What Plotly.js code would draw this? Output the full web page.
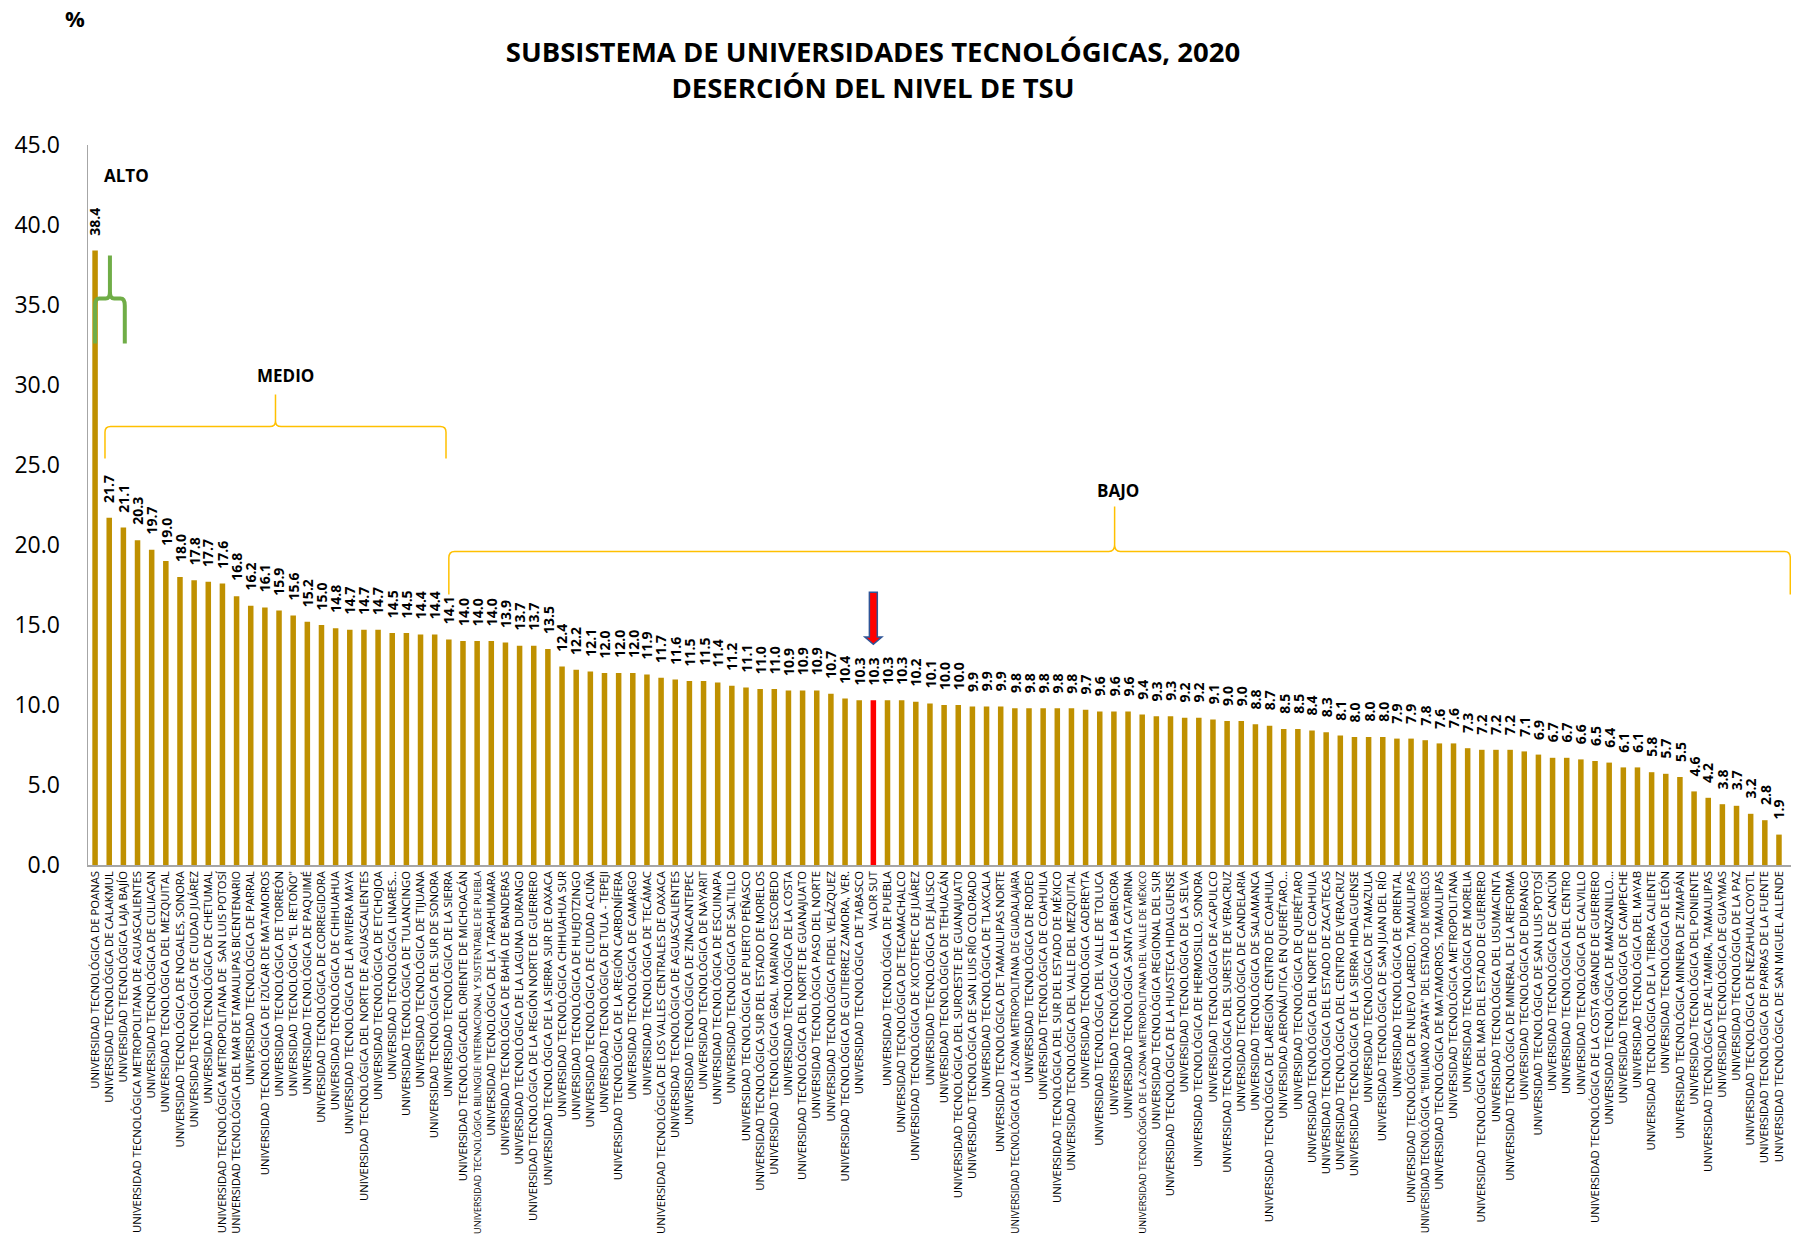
<!DOCTYPE html>
<html>
<head>
<meta charset="utf-8">
<script src="https://cdn.plot.ly/plotly-3.0.1.min.js"></script>
<style>html,body{margin:0;padding:0;background:#fff;}</style>
</head>
<body>
<div id="chart" style="width:1796px;height:1240px;"></div>
<script>
const categories = [
"UNIVERSIDAD TECNOLÓGICA DE POANAS",
"UNIVERSIDAD TECNOLÓGICA DE CALAKMUL",
"UNIVERSIDAD TECNOLÓGICA LAJA BAJÍO",
"UNIVERSIDAD TECNOLÓGICA METROPOLITANA DE AGUASCALIENTES",
"UNIVERSIDAD TECNOLÓGICA DE CULIACAN",
"UNIVERSIDAD TECNOLÓGICA DEL MEZQUITAL",
"UNIVERSIDAD TECNOLÓGICA DE NOGALES, SONORA",
"UNIVERSIDAD TECNOLÓGICA DE CIUDAD JUÁREZ",
"UNIVERSIDAD TECNOLÓGICA DE CHETUMAL",
"UNIVERSIDAD TECNOLÓGICA METROPOLITANA DE  SAN LUIS POTOSÍ",
"UNIVERSIDAD TECNOLÓGICA DEL MAR DE TAMAULIPAS BICENTENARIO",
"UNIVERSIDAD TECNOLÓGICA DE PARRAL",
"UNIVERSIDAD TECNOLÓGICA DE IZÚCAR DE MATAMOROS",
"UNIVERSIDAD TECNOLÓGICA DE TORREÓN",
"UNIVERSIDAD TECNOLÓGICA \"EL RETOÑO\"",
"UNIVERSIDAD TECNOLÓGICA DE PAQUIMÉ",
"UNIVERSIDAD TECNOLÓGICA DE CORREGIDORA",
"UNIVERSIDAD TECNOLÓGICA DE CHIHUAHUA",
"UNIVERSIDAD TECNOLÓGICA DE LA RIVIERA MAYA",
"UNIVERSIDAD TECNOLÓGICA DEL NORTE DE AGUASCALIENTES",
"UNIVERSIDAD TECNOLÓGICA DE ETCHOJOA",
"UNIVERSIDAD TECNOLÓGICA LINARES...",
"UNIVERSIDAD TECNOLÓGICA DE TULANCINGO",
"UNIVERSIDAD TECNOLÓGICA DE TIJUANA",
"UNIVERSIDAD TECNOLÓGICA DEL SUR DE SONORA",
"UNIVERSIDAD TECNOLÓGICA DE LA SIERRA",
"UNIVERSIDAD TECNOLÓGICADEL ORIENTE DE MICHOACÁN",
"UNIVERSIDAD TECNOLÓGICA BILINGÜE INTERNACIONAL Y SUSTENTABLE DE PUEBLA",
"UNIVERSIDAD TECNOLÓGICA DE LA TARAHUMARA",
"UNIVERSIDAD TECNOLÓGICA DE BAHÍA DE BANDERAS",
"UNIVERSIDAD TECNOLÓGICA DE LA LAGUNA DURANGO",
"UNIVERSIDAD TECNOLÓGICA DE LA REGIÓN NORTE DE GUERRERO",
"UNIVERSIDAD TECNOLÓGICA DE LA SIERRA SUR DE OAXACA",
"UNIVERSIDAD TECNOLÓGICA CHIHUAHUA SUR",
"UNIVERSIDAD TECNOLÓGICA DE HUEJOTZINGO",
"UNIVERSIDAD TECNOLÓGICA DE CIUDAD ACUÑA",
"UNIVERSIDAD TECNOLÓGICA DE TULA - TEPEJI",
"UNIVERSIDAD TECNOLÓGICA DE LA REGIÓN CARBONÍFERA",
"UNIVERSIDAD TECNOLÓGICA DE CAMARGO",
"UNIVERSIDAD TECNOLÓGICA DE TECÁMAC",
"UNIVERSIDAD TECNOLÓGICA DE LOS VALLES CENTRALES DE OAXACA",
"UNIVERSIDAD TECNOLÓGICA DE AGUASCALIENTES",
"UNIVERSIDAD TECNOLÓGICA DE ZINACANTEPEC",
"UNIVERSIDAD TECNOLÓGICA DE NAYARIT",
"UNIVERSIDAD TECNOLÓGICA DE ESCUINAPA",
"UNIVERSIDAD TECNOLÓGICA DE SALTILLO",
"UNIVERSIDAD TECNOLÓGICA DE PUERTO PEÑASCO",
"UNIVERSIDAD TECNOLÓGICA SUR DEL ESTADO DE MORELOS",
"UNIVERSIDAD TECNOLÓGICA GRAL. MARIANO ESCOBEDO",
"UNIVERSIDAD TECNOLÓGICA DE LA COSTA",
"UNIVERSIDAD TECNOLÓGICA DEL NORTE DE GUANAJUATO",
"UNIVERSIDAD TECNOLÓGICA PASO DEL NORTE",
"UNIVERSIDAD TECNOLÓGICA FIDEL VELÁZQUEZ",
"UNIVERSIDAD TECNOLÓGICA DE GUTIERREZ ZAMORA, VER.",
"UNIVERSIDAD TECNOLÓGICA DE TABASCO",
"VALOR SUT",
"UNIVERSIDAD TECNOLÓGICA DE PUEBLA",
"UNIVERSIDAD TECNOLÓGICA DE TECAMACHALCO",
"UNIVERSIDAD TECNOLÓGICA DE XICOTEPEC DE JUÁREZ",
"UNIVERSIDAD TECNOLÓGICA DE JALISCO",
"UNIVERSIDAD TECNOLÓGICA DE TEHUACÁN",
"UNIVERSIDAD TECNOLÓGICA DEL SUROESTE DE GUANAJUATO",
"UNIVERSIDAD TECNOLÓGICA DE SAN LUIS RÍO COLORADO",
"UNIVERSIDAD TECNOLÓGICA DE TLAXCALA",
"UNIVERSIDAD TECNOLÓGICA DE TAMAULIPAS NORTE",
"UNIVERSIDAD TECNOLÓGICA DE LA ZONA METROPOLITANA DE GUADALAJARA",
"UNIVERSIDAD TECNOLÓGICA DE RODEO",
"UNIVERSIDAD TECNOLÓGICA DE COAHUILA",
"UNIVERSIDAD TECNOLÓGICA DEL SUR DEL ESTADO DE MÉXICO",
"UNIVERSIDAD TECNOLÓGICA DEL VALLE DEL MEZQUITAL",
"UNIVERSIDAD TECNOLÓGICA CADEREYTA",
"UNIVERSIDAD TECNOLÓGICA DEL VALLE DE TOLUCA",
"UNIVERSIDAD TECNOLÓGICA DE LA BABICORA",
"UNIVERSIDAD TECNOLÓGICA SANTA CATARINA",
"UNIVERSIDAD TECNOLÓGICA DE LA ZONA METROPOLITANA DEL VALLE DE MÉXICO",
"UNIVERSIDAD TECNOLÓGICA REGIONAL DEL SUR",
"UNIVERSIDAD TECNOLÓGICA DE LA HUASTECA HIDALGUENSE",
"UNIVERSIDAD TECNOLÓGICA DE LA SELVA",
"UNIVERSIDAD TECNOLÓGICA DE HERMOSILLO, SONORA",
"UNIVERSIDAD TECNOLÓGICA DE ACAPULCO",
"UNIVERSIDAD TECNOLÓGICA DEL SURESTE DE VERACRUZ",
"UNIVERSIDAD TECNOLÓGICA DE CANDELARIA",
"UNIVERSIDAD TECNOLÓGICA DE SALAMANCA",
"UNIVERSIDAD TECNOLÓGICA DE LAREGIÓN CENTRO DE COAHUILA",
"UNIVERSIDAD AERONÁUTICA EN QUERÉTARO...",
"UNIVERSIDAD TECNOLÓGICA DE QUERÉTARO",
"UNIVERSIDAD TECNOLÓGICA DEL NORTE DE COAHUILA",
"UNIVERSIDAD TECNOLÓGICA DEL ESTADO DE ZACATECAS",
"UNIVERSIDAD TECNOLÓGICA DEL CENTRO DE VERACRUZ",
"UNIVERSIDAD TECNOLÓGICA DE LA SIERRA HIDALGUENSE",
"UNIVERSIDAD TECNOLÓGICA DE TAMAZULA",
"UNIVERSIDAD TECNOLÓGICA DE SAN JUAN DEL RÍO",
"UNIVERSIDAD TECNOLÓGICA DE ORIENTAL",
"UNIVERSIDAD TECNOLÓGICA DE NUEVO LAREDO, TAMAULIPAS",
"UNIVERSIDAD TECNOLÓGICA \"EMILIANO ZAPATA\" DEL ESTADO DE MORELOS",
"UNIVERSIDAD TECNOLÓGICA DE MATAMOROS, TAMAULIPAS",
"UNIVERSIDAD TECNOLÓGICA METROPOLITANA",
"UNIVERSIDAD TECNOLÓGICA DE MORELIA",
"UNIVERSIDAD TECNOLÓGICA DEL MAR DEL ESTADO DE GUERRERO",
"UNIVERSIDAD TECNOLÓGICA DEL USUMACINTA",
"UNIVERSIDAD TECNOLÓGICA DE MINERAL DE LA REFORMA",
"UNIVERSIDAD TECNOLÓGICA DE DURANGO",
"UNIVERSIDAD TECNOLÓGICA DE SAN LUIS POTOSÍ",
"UNIVERSIDAD TECNOLÓGICA DE CANCÚN",
"UNIVERSIDAD TECNOLÓGICA DEL CENTRO",
"UNIVERSIDAD TECNOLÓGICA DE CALVILLO",
"UNIVERSIDAD TECNOLÓGICA DE LA COSTA GRANDE DE GUERRERO",
"UNIVERSIDAD TECNOLÓGICA DE MANZANILLO...",
"UNIVERSIDAD TECNOLÓGICA DE CAMPECHE",
"UNIVERSIDAD TECNOLÓGICA DEL MAYAB",
"UNIVERSIDAD TECNOLÓGICA DE LA TIERRA CALIENTE",
"UNIVERSIDAD TECNOLÓGICA DE LEÓN",
"UNIVERSIDAD TECNOLÓGICA MINERA DE ZIMAPÁN",
"UNIVERSIDAD TECNOLÓGICA DEL PONIENTE",
"UNIVERSIDAD TECNOLÓGICA DE ALTAMIRA, TAMAULIPAS",
"UNIVERSIDAD TECNOLÓGICA DE GUAYMAS",
"UNIVERSIDAD TECNOLÓGICA DE LA PAZ",
"UNIVERSIDAD TECNOLÓGICA DE NEZAHUALCOYOTL",
"UNIVERSIDAD TECNOLÓGICA DE PARRAS DE LA FUENTE",
"UNIVERSIDAD TECNOLÓGICA DE SAN MIGUEL ALLENDE"
];

const values = [
38.4, 21.7, 21.1, 20.3, 19.7, 19.0, 18.0, 17.8, 17.7, 17.6,
16.8, 16.2, 16.1, 15.9, 15.6, 15.2, 15.0, 14.8, 14.7, 14.7,
14.7, 14.5, 14.5, 14.4, 14.4, 14.1, 14.0, 14.0, 14.0, 13.9,
13.7, 13.7, 13.5, 12.4, 12.2, 12.1, 12.0, 12.0, 12.0, 11.9,
11.7, 11.6, 11.5, 11.5, 11.4, 11.2, 11.1, 11.0, 11.0, 10.9,
10.9, 10.9, 10.7, 10.4, 10.3, 10.3, 10.3, 10.3, 10.2, 10.1,
10.0, 10.0, 9.9, 9.9, 9.9, 9.8, 9.8, 9.8, 9.8, 9.8,
9.7, 9.6, 9.6, 9.6, 9.4, 9.3, 9.3, 9.2, 9.2, 9.1,
9.0, 9.0, 8.8, 8.7, 8.5, 8.5, 8.4, 8.3, 8.1, 8.0,
8.0, 8.0, 7.9, 7.9, 7.8, 7.6, 7.6, 7.3, 7.2, 7.2,
7.2, 7.1, 6.9, 6.7, 6.7, 6.6, 6.5, 6.4, 6.1, 6.1,
5.8, 5.7, 5.5, 4.6, 4.2, 3.8, 3.7, 3.2, 2.8, 1.9
];

const highlightCategory = "VALOR SUT";
const titleLines = ["SUBSISTEMA DE UNIVERSIDADES TECNOLÓGICAS, 2020", "DESERCIÓN DEL NIVEL DE TSU"];
const yUnit = "%";
const yTickVals = [0, 5, 10, 15, 20, 25, 30, 35, 40, 45];

// Level groups (first and last category index of each bracket)
const groupNames = ["ALTO", "MEDIO", "BAJO"];
const groupFirst = [0, 1, 25];
const groupLast = [0, 24, 119];

const FONT = "Open Sans, Liberation Sans, Arial, sans-serif";
const GOLD = "#BF9000";
const RED = "#FF0000";

const W = 1796, H = 1240;
const M = { l: 88, r: 5, t: 145, b: 375 };
const plotW = W - M.l - M.r, plotH = H - M.t - M.b;
// figure pixel -> paper coords
const px = x => (x - M.l) / plotW;
const py = y => (H - M.b - y) / plotH;

// tick labels: base size, shrink only those that would not fit below the axis
const LABEL_SIZE = 11.3;
const LABEL_ROOM = M.b - 12;   // pixels available below the axis line
const measureCtx = document.createElement("canvas").getContext("2d");
measureCtx.font = LABEL_SIZE + 'px "Open Sans"';
const tickText = categories.map(c => {
  const w = measureCtx.measureText(c).width;
  if (w > LABEL_ROOM) {
    const fs = (LABEL_SIZE * LABEL_ROOM / w).toFixed(2);
    return '<span style="font-size:' + fs + 'px">' + c + '</span>';
  }
  return c;
});

const barColors = categories.map(c => c === highlightCategory ? RED : GOLD);

const trace = {
  type: "bar",
  x: categories,
  y: values,
  marker: { color: barColors, line: { width: 0 } },
  hoverinfo: "x+y",
  showlegend: false
};

const annotations = [];
categories.forEach((c, i) => {
  annotations.push({
    x: c, y: values[i], xref: "x", yref: "y",
    text: "<b>" + values[i].toFixed(1) + "</b>",
    textangle: -90, showarrow: false,
    xanchor: "center", yanchor: "bottom", yshift: 13,
    font: { family: FONT, size: 14, color: "#000" }
  });
});

// brace path (curly bracket opening downward) in data coords (category index, value)
function brace(x0, x1, xm, yEnd, yBar, yTip, dx, dy) {
  return "M" + x0 + "," + yEnd +
    " L" + x0 + "," + (yBar - dy) +
    " Q" + x0 + "," + yBar + " " + (x0 + dx) + "," + yBar +
    " L" + (xm - dx) + "," + yBar +
    " Q" + xm + "," + yBar + " " + xm + "," + (yBar + dy) +
    " L" + xm + "," + yTip +
    " L" + xm + "," + (yBar + dy) +
    " Q" + xm + "," + yBar + " " + (xm + dx) + "," + yBar +
    " L" + (x1 - dx) + "," + yBar +
    " Q" + x1 + "," + yBar + " " + x1 + "," + (yBar - dy) +
    " L" + x1 + "," + yEnd;
}

const shapes = [];
// ALTO bracket (green)
{
  const x0 = groupFirst[0], x1 = groupFirst[0] + 2.1, xm = (x0 + x1) / 2;
  shapes.push({ type: "path", xref: "x", yref: "y",
    path: brace(x0, x1, xm, 32.6, 35.4, 38.1, 0.3, 0.45),
    line: { color: "#70AD47", width: 4 }, fillcolor: "rgba(0,0,0,0)" });
  annotations.push({ x: xm + 1.2, y: 43.1, xref: "x", yref: "y", text: "<b>" + groupNames[0] + "</b>",
    showarrow: false, font: { family: FONT, size: 17, color: "#000" } });
}
// MEDIO bracket (yellow)
{
  const x0 = groupFirst[1] - 0.3, x1 = groupLast[1] + 0.8, xm = (x0 + x1) / 2;
  shapes.push({ type: "path", xref: "x", yref: "y",
    path: brace(x0, x1, xm, 25.4, 27.4, 29.4, 0.4, 0.35),
    line: { color: "#FFC000", width: 1.5 }, fillcolor: "rgba(0,0,0,0)" });
  annotations.push({ x: xm + 0.7, y: 30.6, xref: "x", yref: "y", text: "<b>" + groupNames[1] + "</b>",
    showarrow: false, font: { family: FONT, size: 17, color: "#000" } });
}
// BAJO bracket (yellow)
{
  const x0 = groupFirst[2], x1 = groupLast[2] + 0.8, xm = 72.05;
  shapes.push({ type: "path", xref: "x", yref: "y",
    path: brace(x0, x1, xm, 16.9, 19.6, 22.4, 0.4, 0.4),
    line: { color: "#FFC000", width: 1.5 }, fillcolor: "rgba(0,0,0,0)" });
  annotations.push({ x: xm + 0.25, y: 23.4, xref: "x", yref: "y", text: "<b>" + groupNames[2] + "</b>",
    showarrow: false, font: { family: FONT, size: 17, color: "#000" } });
}
// Down arrow over the highlighted bar
{
  const k = categories.indexOf(highlightCategory);
  const v = values[k];
  const top = v + 6.75, headStart = v + 3.95, tip = v + 3.5;
  const sw = 0.28, hw = 0.6;
  const p = "M" + (k - sw) + "," + top + " L" + (k + sw) + "," + top +
    " L" + (k + sw) + "," + headStart + " L" + (k + hw) + "," + headStart +
    " L" + k + "," + tip + " L" + (k - hw) + "," + headStart +
    " L" + (k - sw) + "," + headStart + " Z";
  shapes.push({ type: "path", xref: "x", yref: "y", path: p,
    fillcolor: RED, line: { color: "#2F5597", width: 1.5 } });
}

// % label
annotations.push({ x: px(75), y: py(18), xref: "paper", yref: "paper",
  text: "<b>" + yUnit + "</b>", showarrow: false, xanchor: "center", yanchor: "middle",
  font: { family: FONT, size: 22, color: "#000" } });

const layout = {
  width: W, height: H,
  margin: { l: M.l, r: M.r, t: M.t, b: M.b, autoexpand: false },
  paper_bgcolor: "#fff", plot_bgcolor: "#fff",
  bargap: 0.61,
  title: {
    text: "<b>" + titleLines.join("<br>") + "</b>",
    x: 873 / W, xref: "container", xanchor: "center",
    y: 1 - 62 / H, yref: "container", yanchor: "top",
    font: { family: FONT, size: 27.5, color: "#000" }
  },
  xaxis: {
    type: "category",
    tickmode: "array", tickvals: categories, ticktext: tickText,
    tickangle: -90,
    tickfont: { family: FONT, size: LABEL_SIZE, color: "#000" },
    showline: true, linecolor: "#A6A6A6", linewidth: 1.5,
    showgrid: false, zeroline: false, ticks: "",
    range: [-0.5, categories.length - 0.5 + 0.35],
    automargin: false, fixedrange: true
  },
  yaxis: {
    range: [0, 45],
    tickmode: "array", tickvals: yTickVals,
    ticktext: yTickVals.map(v => v.toFixed(1)),
    tickfont: { family: FONT, size: 23, color: "#000" },
    showline: true, linecolor: "#A6A6A6", linewidth: 1.5,
    showgrid: false, zeroline: false, ticks: "",
    ticklabelstandoff: 22,
    automargin: false, fixedrange: true
  },
  annotations: annotations,
  shapes: shapes
};

Plotly.newPlot("chart", [trace], layout, { displayModeBar: false, staticPlot: true });
</script>
</body>
</html>
